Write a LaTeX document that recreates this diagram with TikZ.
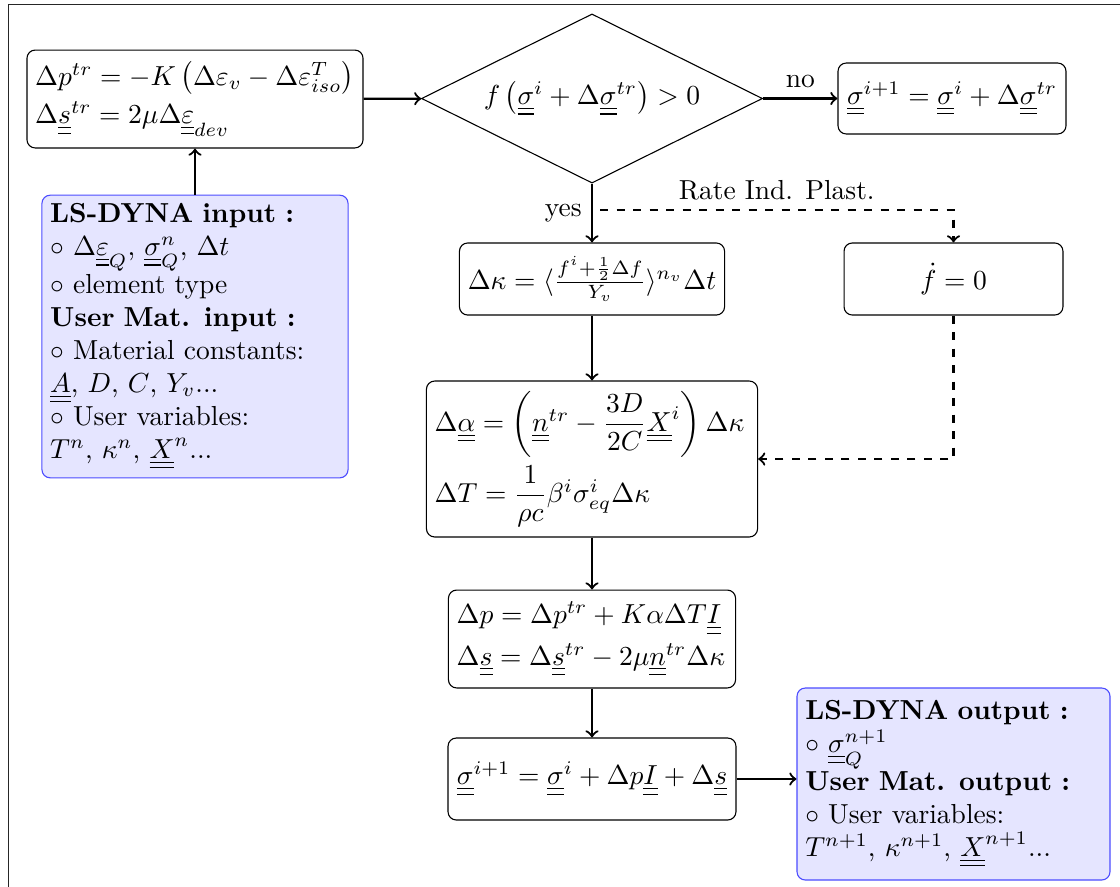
\documentclass[tikz,border=0pt]{standalone}
\usepackage{amsmath}
\usetikzlibrary{shapes.geometric}
\newcommand{\uu}[1]{\underline{\underline{#1}}}
\begin{document}
\begin{tikzpicture}[x=0.3636pt,y=-0.3636pt,
  box/.style={draw, rounded corners=3pt, inner sep=3pt},
  ml/.style={box, align=left, text width=#1},
  info/.style={draw=blue!70, fill=blue!10, rounded corners=3pt, inner sep=3pt, align=left, text width=#1},
  conn/.style={->, thick},
  dconn/.style={->, thick, dashed},
]
\path[use as bounding box] (0,0) rectangle (1120,886);
\clip (0,0) rectangle (1120,886);
\draw[semithick, black!85] (8.5,4.5) rectangle (1200,1000);

\node[ml=116.2pt, minimum height=35.6pt] (trial) at (195,99)
  {$\Delta p^{tr} = -K\left(\Delta\varepsilon_v - \Delta\varepsilon^T_{iso}\right)$\\[2pt]
   $\Delta\uu{s}^{tr} = 2\mu\Delta\uu{\varepsilon}_{dev}$};

\node[draw, diamond, aspect=2, minimum width=124pt, minimum height=61.5pt, inner sep=0pt] (test) at (592,98.5)
  {$f\left(\uu{\sigma}^i + \Delta\uu{\sigma}^{tr}\right) > 0$};

\node[box, minimum width=82.9pt, minimum height=25.8pt] (noplast) at (952,98.5)
  {$\uu{\sigma}^{i+1} = \uu{\sigma}^i + \Delta\uu{\sigma}^{tr}$};

\node[info=105.3pt, minimum height=96.4pt] (input) at (195,336.5)
  {\textbf{LS-DYNA input :}\\
   $\circ$ $\Delta\uu{\varepsilon}_Q$, $\uu{\sigma}^n_Q$, $\Delta t$\\
   $\circ$ element type\\
   \textbf{User Mat. input :}\\
   $\circ$ Material constants:\\
   $\uu{A}$, $D$, $C$, $Y_v$...\\
   $\circ$ User variables:\\
   $T^n$, $\kappa^n$, $\uu{X}^n$...};

\node[box, minimum width=96.4pt, minimum height=26.2pt] (dkappa) at (592,279)
  {$\Delta\kappa = \langle\frac{f^i+\frac{1}{2}\Delta f}{Y_v}\rangle^{n_v}\Delta t$};

\node[box, minimum width=79.6pt, minimum height=26.2pt] (fdot) at (953.5,279)
  {$\dot f = 0$};

\node[ml=114.4pt, minimum height=56.7pt] (dalpha) at (592,459)
  {$\Delta\uu{\alpha} = \left(\uu{n}^{tr} - \dfrac{3D}{2C}\uu{X}^i\right)\Delta\kappa$\\[2pt]
   $\Delta T = \dfrac{1}{\rho c}\beta^i\sigma^i_{eq}\Delta\kappa$};

\node[ml=98.4pt, minimum height=35.6pt] (dp) at (592,639)
  {$\Delta p = \Delta p^{tr} + K\alpha\Delta T\uu{I}$\\[3pt]
   $\Delta\uu{s} = \Delta\uu{s}^{tr} - 2\mu\uu{n}^{tr}\Delta\kappa$};

\node[box, minimum width=104.7pt, minimum height=29.8pt] (update) at (592,779)
  {$\uu{\sigma}^{i+1} = \uu{\sigma}^i + \Delta p\uu{I} + \Delta\uu{s}$};

\node[info=107.8pt, minimum height=69.8pt] (output) at (953.5,784)
  {\textbf{LS-DYNA output :}\\
   $\circ$ $\uu{\sigma}^{n+1}_Q$\\
   \textbf{User Mat. output :}\\
   $\circ$ User variables:\\
   $T^{n+1}$, $\kappa^{n+1}$, $\uu{X}^{n+1}$...};

\coordinate (rip) at (600,210);

\draw[conn] (trial) -- (test);
\draw[conn] (test) -- node[above] {no} (noplast);
\draw[conn] (input) -- (trial);
\draw[conn] (test) -- node[left] {yes} (dkappa);
\draw[dconn] (rip) -| node[above, pos=0.25] {Rate Ind. Plast.} (fdot);
\draw[dconn] (fdot) |- (dalpha);
\draw[conn] (dkappa) -- (dalpha);
\draw[conn] (dalpha) -- (dp);
\draw[conn] (dp) -- (update);
\draw[conn] (update.east) -- (update.east -| output.west);
\end{tikzpicture}
\end{document}
